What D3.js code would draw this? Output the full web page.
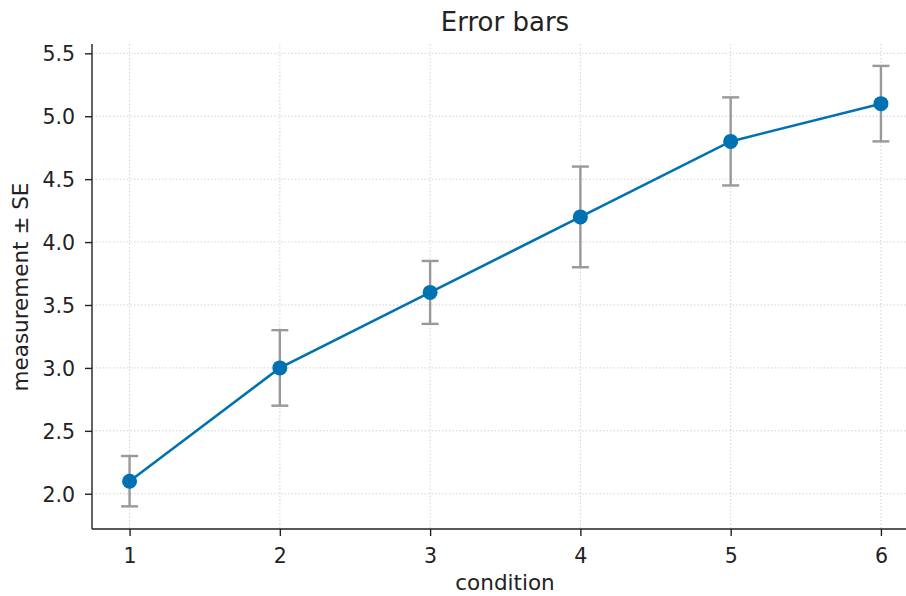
<!DOCTYPE html>
<html>
<head>
<meta charset="utf-8">
<script src="https://cdn.jsdelivr.net/npm/d3@7"></script>
<style>
  body { margin: 0; background: #fff; }
  text { font-family: "DejaVu Sans", sans-serif; fill: #222; }
</style>
</head>
<body>
<div id="chart"></div>
<script>
// error bar chart: measurement per condition, +/- SE
var conditions = [1, 2, 3, 4, 5, 6];
var means = [2.1, 3.0, 3.6, 4.2, 4.8, 5.1];
var errors = [0.2, 0.3, 0.25, 0.4, 0.35, 0.3];
var yTicks = [2.0, 2.5, 3.0, 3.5, 4.0, 4.5, 5.0, 5.5];

var width = 906,
    height = 596;

var svg = d3.select("#chart").append("svg")
    .attr("width", width)
    .attr("height", height);

var x = d3.scaleLinear().domain([0.75, 6.25]).range([92, 918.5]);
var y = d3.scaleLinear().domain([1.72, 5.574]).range([529, 44]);

var points = conditions.map(function(c, i) {
    return {c: c, m: means[i], e: errors[i]};
});

// grid
svg.append("g").selectAll("line")
    .data(yTicks).enter().append("line")
    .attr("x1", 92).attr("x2", width)
    .attr("y1", d => y(d)).attr("y2", d => y(d))
    .attr("stroke", "#c8c8c8").attr("stroke-width", 0.8)
    .attr("stroke-dasharray", "1.5,2");
svg.append("g").selectAll("line")
    .data(conditions).enter().append("line")
    .attr("x1", d => x(d)).attr("x2", d => x(d))
    .attr("y1", 44).attr("y2", 529)
    .attr("stroke", "#c8c8c8").attr("stroke-width", 0.8)
    .attr("stroke-dasharray", "1.5,2");

// axes
var yAxis = svg.append("g")
    .attr("transform", "translate(92,0)")
    .call(d3.axisLeft(y).tickValues(yTicks).tickFormat(d3.format(".1f")).tickSize(7).tickPadding(10));
var xAxis = svg.append("g")
    .attr("transform", "translate(0,529)")
    .call(d3.axisBottom(x).tickValues(conditions).tickFormat(d3.format("d")).tickSize(7));

[xAxis, yAxis].forEach(function(a) {
    a.select(".domain").attr("stroke", "#222").attr("stroke-width", 1.4);
    a.selectAll(".tick line").attr("stroke", "#222").attr("stroke-width", 1.4);
    a.selectAll(".tick text").style("font-size", "20.5px").attr("fill", "#222");
});
yAxis.selectAll(".tick text").attr("dy", "0.36em");
xAxis.selectAll(".tick text").attr("y", 34).attr("dy", 0);
yAxis.select(".domain").attr("d", "M0,529V44");
xAxis.select(".domain").attr("d", "M92,0H" + width);

// error bars
var eb = svg.append("g").attr("stroke", "#999").attr("stroke-width", 2.4);
eb.selectAll(".v").data(points).enter().append("line")
    .attr("x1", d => x(d.c)).attr("x2", d => x(d.c))
    .attr("y1", d => y(d.m - d.e)).attr("y2", d => y(d.m + d.e));
eb.selectAll(".top").data(points).enter().append("line")
    .attr("x1", d => x(d.c) - 8.5).attr("x2", d => x(d.c) + 8.5)
    .attr("y1", d => y(d.m + d.e)).attr("y2", d => y(d.m + d.e));
eb.selectAll(".bot").data(points).enter().append("line")
    .attr("x1", d => x(d.c) - 8.5).attr("x2", d => x(d.c) + 8.5)
    .attr("y1", d => y(d.m - d.e)).attr("y2", d => y(d.m - d.e));

// line + markers
var line = d3.line().x(d => x(d.c)).y(d => y(d.m));
svg.append("path")
    .datum(points)
    .attr("d", line)
    .attr("fill", "none")
    .attr("stroke", "#0072B2")
    .attr("stroke-width", 2.6);
svg.selectAll("circle")
    .data(points).enter().append("circle")
    .attr("cx", d => x(d.c))
    .attr("cy", d => y(d.m))
    .attr("r", 7.5)
    .attr("fill", "#0072B2");

// labels
svg.append("text")
    .attr("x", 505).attr("y", 31)
    .attr("text-anchor", "middle")
    .style("font-size", "26px")
    .text("Error bars");
svg.append("text")
    .attr("x", 505).attr("y", 590)
    .attr("text-anchor", "middle")
    .style("font-size", "21.5px")
    .text("condition");
svg.append("text")
    .attr("transform", "translate(27.5,287) rotate(-90)")
    .attr("text-anchor", "middle")
    .style("font-size", "21.5px")
    .text("measurement ± SE");
</script>
</body>
</html>
